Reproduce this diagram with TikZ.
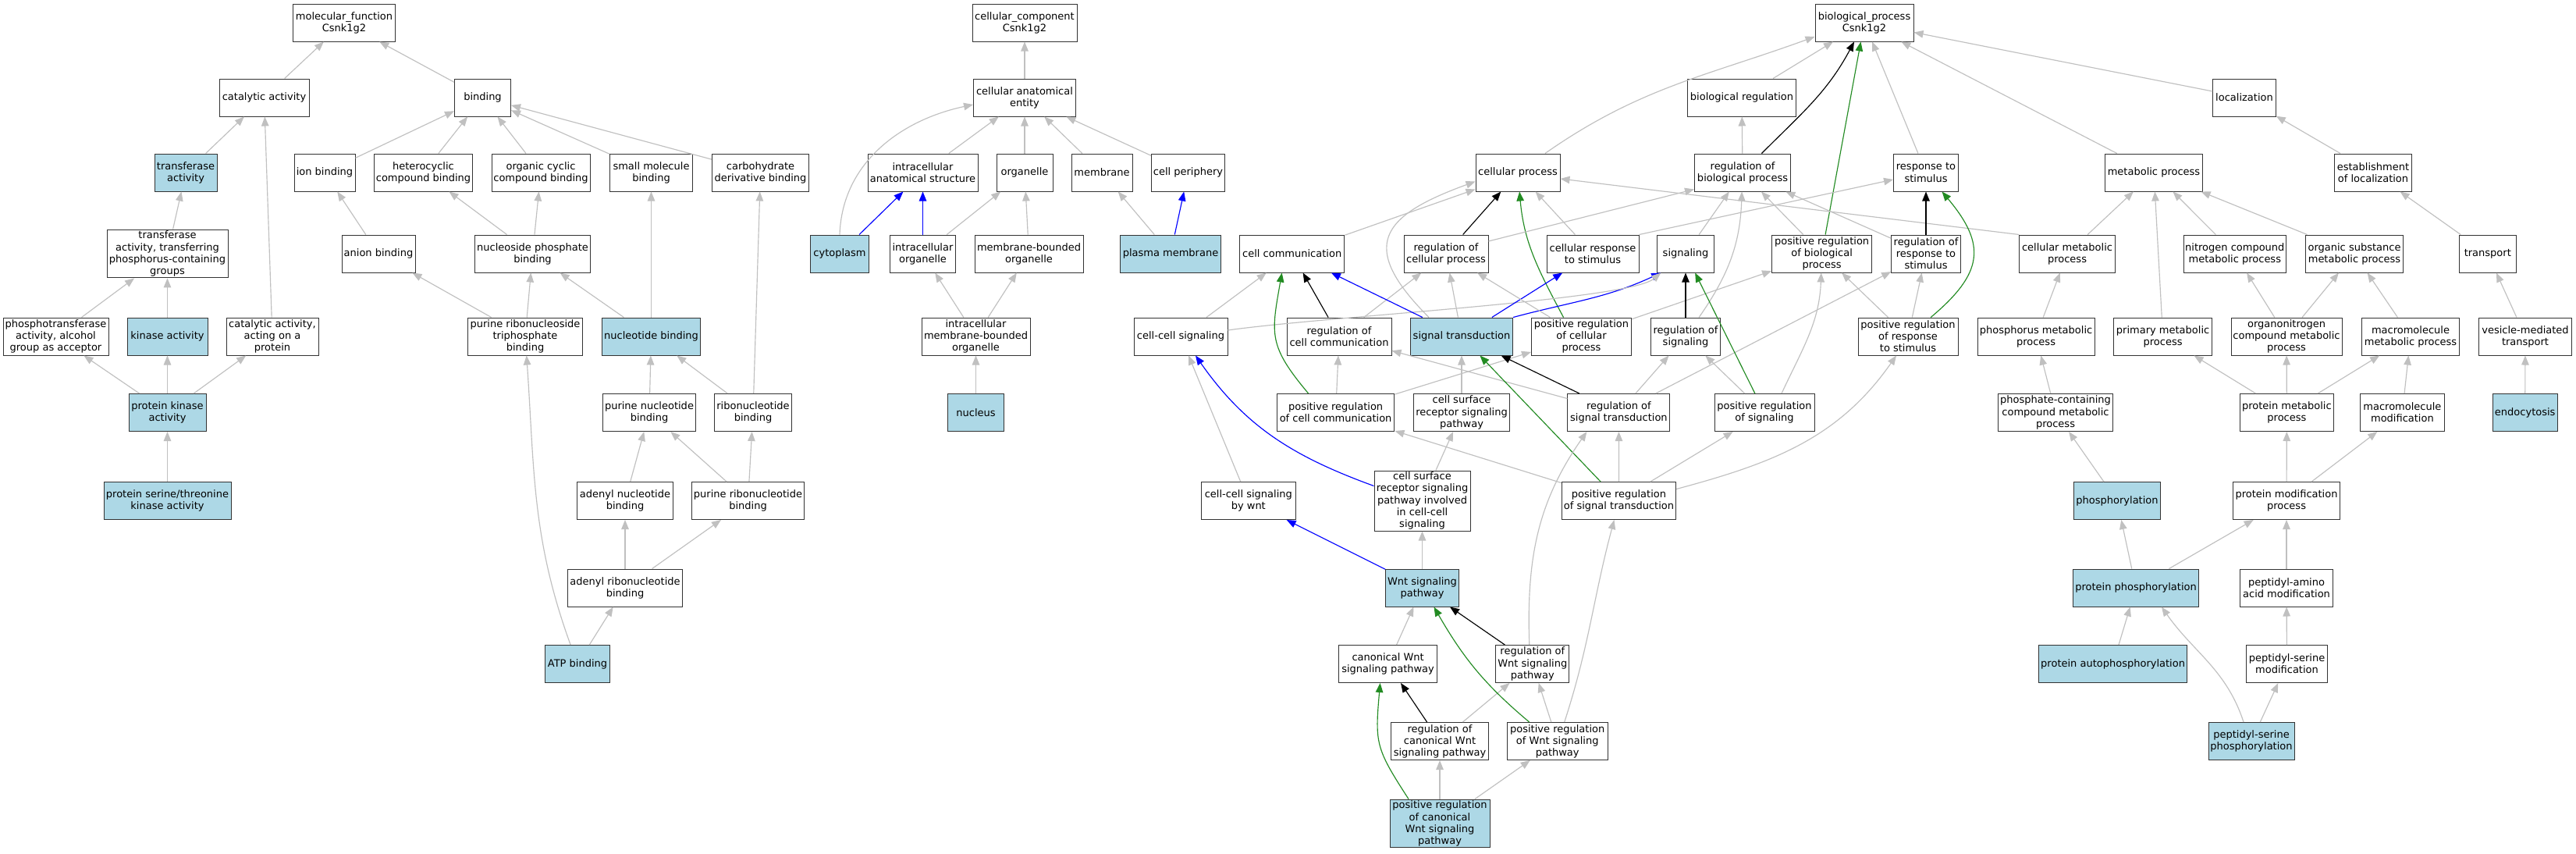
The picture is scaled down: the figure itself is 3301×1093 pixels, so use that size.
\documentclass[tikz,border=0pt]{standalone}
\usepackage{fontspec}
\setmainfont{DejaVu Sans}
\usepackage{xcolor}
\usetikzlibrary{arrows.meta}
\definecolor{lightblue}{HTML}{ADD8E6}
\definecolor{edgegray}{HTML}{C0C0C0}
\definecolor{forestgreen}{HTML}{228B22}

\begin{document}
\begin{tikzpicture}[x=1pt, y=1pt,
    term/.style={draw=black!80, line width=1pt, fill=white, rectangle, align=center,
        inner xsep=1.5pt, inner ysep=2pt, minimum height=48pt,
        font=\fontsize{13pt}{15.1pt}\selectfont},
    hit/.style={term, fill=lightblue},
    bw/.style={minimum width=#1pt},
    isa/.style={draw=edgegray, line width=1.15pt, -{Triangle[length=12pt, width=9.5pt]}},
    reg/.style={isa, draw=black},
    posreg/.style={isa, draw=forestgreen},
    partof/.style={isa, draw=blue}]
    \fill[white] (0,0) rectangle (3301,-1093);
    \useasboundingbox (0,0) rectangle (3301,-1093);

    \node[term, bw=131] (mf) at (441,-29) {molecular\_function\\Csnk1g2};
    \node[term, bw=115] (catact) at (338.5,-125) {catalytic activity};
    \node[term, bw=72] (binding) at (618.5,-125) {binding};
    \node[hit, bw=80] (transf) at (238,-221) {transferase\\activity};
    \node[term, bw=78] (ionb) at (416,-221) {ion binding};
    \node[term, bw=126] (hetero) at (542.5,-221) {heterocyclic\\compound binding};
    \node[term, bw=126] (orgcyc) at (693,-221) {organic cyclic\\compound binding};
    \node[term, bw=106] (smallmol) at (834.5,-221) {small molecule\\binding};
    \node[term, bw=124] (carbo) at (974.5,-221) {carbohydrate\\derivative binding};
    \node[term, bw=155] (transfp) at (214.5,-325) {transferase\\activity, transferring\\phosphorus-containing\\groups};
    \node[term, bw=94] (anion) at (485,-325) {anion binding};
    \node[term, bw=148] (nucphos) at (682.5,-325) {nucleoside phosphate\\binding};
    \node[term, bw=135] (phostr) at (71.5,-431) {phosphotransferase\\activity, alcohol\\group as acceptor};
    \node[hit, bw=103] (kinase) at (214.5,-431) {kinase activity};
    \node[term, bw=118] (catprot) at (349,-431) {catalytic activity,\\acting on a\\protein};
    \node[term, bw=147] (purtri) at (673,-431) {purine ribonucleoside\\triphosphate\\binding};
    \node[hit, bw=126] (nucleotide) at (834.5,-431) {nucleotide binding};
    \node[hit, bw=99] (pkinase) at (214.5,-528.5) {protein kinase\\activity};
    \node[term, bw=119] (purnuc) at (832,-528.5) {purine nucleotide\\binding};
    \node[term, bw=99] (ribonuc) at (965,-528.5) {ribonucleotide\\binding};
    \node[hit, bw=163] (serthr) at (214.5,-641.5) {protein serine/threonine\\kinase activity};
    \node[term, bw=123] (adenyl) at (801,-641.5) {adenyl nucleotide\\binding};
    \node[term, bw=144] (purribo) at (958.5,-641.5) {purine ribonucleotide\\binding};
    \node[term, bw=147] (adribo) at (801,-753) {adenyl ribonucleotide\\binding};
    \node[hit, bw=83] (atp) at (740,-850.5) {ATP binding};

    \node[term, bw=134] (cc) at (1313,-29) {cellular\_component\\Csnk1g2};
    \node[term, bw=131] (cae) at (1313,-125) {cellular anatomical\\entity};
    \node[term, bw=141] (ias) at (1182.5,-221) {intracellular\\anatomical structure};
    \node[term, bw=72] (organelle) at (1313,-221) {organelle};
    \node[term, bw=78] (membrane) at (1412,-221) {membrane};
    \node[term, bw=94] (cellper) at (1522.5,-221) {cell periphery};
    \node[hit, bw=74.5] (cytoplasm) at (1076,-325) {cytoplasm};
    \node[term, bw=84] (intraorg) at (1182.5,-325) {intracellular\\organelle};
    \node[term, bw=139] (mbo) at (1318.5,-325) {membrane-bounded\\organelle};
    \node[hit, bw=129] (plasma) at (1500,-325) {plasma membrane};
    \node[term, bw=139] (imbo) at (1250.5,-431) {intracellular\\membrane-bounded\\organelle};
    \node[hit, bw=72] (nucleus) at (1250.5,-528.5) {nucleus};

    \node[term, bw=126] (bp) at (2389,-29) {biological\_process\\Csnk1g2};
    \node[term, bw=139] (bioreg) at (2232,-125) {biological regulation};
    \node[term, bw=80.5] (loc) at (2876,-125) {localization};
    \node[term, bw=108] (cellproc) at (1945,-221) {cellular process};
    \node[term, bw=123] (regbp) at (2233,-221) {regulation of\\biological process};
    \node[term, bw=83] (resp) at (2468,-221) {response to\\stimulus};
    \node[term, bw=125.6] (metab) at (2760,-221) {metabolic process};
    \node[term, bw=99] (estloc) at (3041,-221) {establishment\\of localization};
    \node[term, bw=134.4] (cellcomm) at (1655.7,-325) {cell communication};
    \node[term, bw=108] (regcellproc) at (1853,-325) {regulation of\\cellular process};
    \node[term, bw=118] (cellresp) at (2041,-325) {cellular response\\to stimulus};
    \node[term, bw=72.5] (signaling) at (2160,-325) {signaling};
    \node[term, bw=128] (posbp) at (2334.6,-325) {positive regulation\\of biological\\process};
    \node[term, bw=88.6] (regresp) at (2468,-325) {regulation of\\response to\\stimulus};
    \node[term, bw=122.5] (cellmet) at (2649,-325) {cellular metabolic\\process};
    \node[term, bw=131.4] (nitro) at (2863.8,-325) {nitrogen compound\\metabolic process};
    \node[term, bw=125] (orgsub) at (3017,-325) {organic substance\\metabolic process};
    \node[term, bw=72.4] (transport) at (3187.8,-325) {transport};
    \node[term, bw=120] (ccsig) at (1513,-431) {cell-cell signaling};
    \node[term, bw=134] (regcellcomm) at (1716,-431) {regulation of\\cell communication};
    \node[hit, bw=131] (sigtr) at (1873,-431) {signal transduction};
    \node[term, bw=128] (poscellproc) at (2026.5,-431) {positive regulation\\of cellular\\process};
    \node[term, bw=88.6] (regsig) at (2160,-431) {regulation of\\signaling};
    \node[term, bw=128] (posresp) at (2445,-431) {positive regulation\\of response\\to stimulus};
    \node[term, bw=150] (phosmet) at (2609,-431) {phosphorus metabolic\\process};
    \node[term, bw=126] (primary) at (2771.6,-431) {primary metabolic\\process};
    \node[term, bw=142] (orgnitro) at (2930,-431) {organonitrogen\\compound metabolic\\process};
    \node[term, bw=125] (macromet) at (3089,-431) {macromolecule\\metabolic process};
    \node[term, bw=118.5] (vesicle) at (3236,-431) {vesicle-mediated\\transport};
    \node[term, bw=150.7] (poscellcomm) at (1711.6,-528.5) {positive regulation\\of cell communication};
    \node[term, bw=122.6] (csr) at (1873,-528.5) {cell surface\\receptor signaling\\pathway};
    \node[term, bw=131] (regsigtr) at (2074.4,-528.5) {regulation of\\signal transduction};
    \node[term, bw=128] (possig) at (2261,-528.5) {positive regulation\\of signaling};
    \node[term, bw=146.6] (phoscont) at (2634,-528.5) {phosphate-containing\\compound metabolic\\process};
    \node[term, bw=120.7] (protmet) at (2930.4,-528.5) {protein metabolic\\process};
    \node[term, bw=107.3] (macromod) at (3078.4,-528.5) {macromolecule\\modification};
    \node[hit, bw=83] (endo) at (3235.7,-528.5) {endocytosis};
    \node[term, bw=120.4] (ccwnt) at (1599.8,-641.5) {cell-cell signaling\\by wnt};
    \node[term, bw=123] (csrinv) at (1822.5,-641.5) {cell surface\\receptor signaling\\pathway involved\\in cell-cell\\signaling};
    \node[term, bw=146.3] (posst) at (2074.5,-641.5) {positive regulation\\of signal transduction};
    \node[hit, bw=110.6] (phosph) at (2713,-641.5) {phosphorylation};
    \node[term, bw=137] (protmod) at (2930,-641.5) {protein modification\\process};
    \node[hit, bw=94] (wnt) at (1822.5,-753) {Wnt signaling\\pathway};
    \node[hit, bw=161.4] (protphos) at (2737,-753) {protein phosphorylation};
    \node[term, bw=118.8] (pepamino) at (2930,-753) {peptidyl-amino\\acid modification};
    \node[term, bw=125.7] (canwnt) at (1778.6,-850.5) {canonical Wnt\\signaling pathway};
    \node[term, bw=94.3] (regwnt) at (1963.8,-850.5) {regulation of\\Wnt signaling\\pathway};
    \node[hit, bw=190.6] (autophos) at (2707.6,-850.5) {protein autophosphorylation};
    \node[term, bw=104] (pepsermod) at (2930.5,-850.5) {peptidyl-serine\\modification};
    \node[term, bw=125.4] (regcanwnt) at (1845,-949.5) {regulation of\\canonical Wnt\\signaling pathway};
    \node[term, bw=128.7] (poswnt) at (1995.7,-949.5) {positive regulation\\of Wnt signaling\\pathway};
    \node[hit, bw=110] (pepserphos) at (2885,-949.5) {peptidyl-serine\\phosphorylation};
    \node[hit, bw=128] (poscanwnt) at (1845,-1055) {positive regulation\\of canonical\\Wnt signaling\\pathway};

    \draw[isa] (catact) -- (mf);
    \draw[isa] (binding) -- (mf);
    \draw[isa] (transf) -- (catact);
    \draw[isa] (catprot) -- (catact);
    \draw[isa] (ionb) -- (binding);
    \draw[isa] (hetero) -- (binding);
    \draw[isa] (orgcyc) -- (binding);
    \draw[isa] (smallmol) -- (binding);
    \draw[isa] (carbo) -- (binding);
    \draw[isa] (transfp) -- (transf);
    \draw[isa] (anion) -- (ionb);
    \draw[isa] (nucphos) -- (hetero);
    \draw[isa] (nucphos) -- (orgcyc);
    \draw[isa] (phostr) -- (transfp);
    \draw[isa] (kinase) -- (transfp);
    \draw[isa] (purtri) -- (anion);
    \draw[isa] (purtri) -- (nucphos);
    \draw[isa] (nucleotide) -- (nucphos);
    \draw[isa] (nucleotide) -- (smallmol);
    \draw[isa] (pkinase) -- (phostr);
    \draw[isa] (pkinase) -- (kinase);
    \draw[isa] (pkinase) -- (catprot);
    \draw[isa] (purnuc) -- (nucleotide);
    \draw[isa] (ribonuc) -- (nucleotide);
    \draw[isa] (ribonuc) -- (carbo);
    \draw[isa] (serthr) -- (pkinase);
    \draw[isa] (adenyl) -- (purnuc);
    \draw[isa] (purribo) -- (purnuc);
    \draw[isa] (purribo) -- (ribonuc);
    \draw[isa] (adribo) -- (adenyl);
    \draw[isa] (adribo) -- (purribo);
    \draw[isa] (atp) -- (adribo);
    \draw[isa] (atp) to[out=110, in=-86] (purtri);

    \draw[isa] (cae) -- (cc);
    \draw[isa] (ias) -- (cae);
    \draw[isa] (organelle) -- (cae);
    \draw[isa] (membrane) -- (cae);
    \draw[isa] (cellper) -- (cae);
    \draw[isa] (cytoplasm.north) to[out=88, in=192] ([yshift=-9pt]cae.west);
    \draw[partof] (cytoplasm) -- (ias);
    \draw[partof] (intraorg) -- (ias);
    \draw[isa] (intraorg) -- (organelle);
    \draw[isa] (mbo) -- (organelle);
    \draw[isa] (plasma) -- (membrane);
    \draw[partof] (plasma) -- (cellper);
    \draw[isa] (imbo) -- (intraorg);
    \draw[isa] (imbo) -- (mbo);
    \draw[isa] (nucleus) -- (imbo);

    \draw[isa] (bioreg) -- (bp);
    \draw[isa] (cellproc) to[out=35, in=200] ([yshift=-18pt]bp.west);
    \draw[reg] (regbp) to[out=45, in=-118] (bp);
    \draw[posreg] (posbp) -- (bp);
    \draw[isa] (resp) -- (bp);
    \draw[isa] (loc) -- (bp);
    \draw[isa] (metab) -- (bp);
    \draw[isa] (regbp) -- (bioreg);
    \draw[isa] (estloc) -- (loc);
    \draw[isa] (transport) -- (estloc);
    \draw[isa] (vesicle) -- (transport);
    \draw[isa] (endo) -- (vesicle);

    \draw[isa] (cellcomm) -- ([yshift=3pt]cellproc.south west);
    \draw[isa] ([xshift=-42pt]sigtr.north) to[out=135, in=200, looseness=1.8] ([yshift=13pt]cellproc.south west);
    \draw[reg] (regcellproc) -- (cellproc);
    \draw[posreg] ([xshift=-23pt]poscellproc.north) to[out=118, in=-85] (cellproc);
    \draw[isa] (cellresp) -- (cellproc);
    \draw[isa] (cellmet.north west) -- ([yshift=-8pt]cellproc.east);
    \draw[isa] ([yshift=16pt]regcellproc.east) -- ([yshift=3pt]regbp.south west);
    \draw[isa] (cellresp.north east) -- ([yshift=-9pt]resp.west);
    \draw[isa] (signaling) -- (regbp);
    \draw[isa] (posbp) -- (regbp);
    \draw[isa] (regresp) -- (regbp);
    \draw[reg] (regresp) -- (resp);

    \draw[isa] (ccsig) -- (cellcomm);
    \draw[partof] (sigtr.north east) to[out=15, in=-155] ([xshift=5pt]signaling.south west);
    \draw[isa] ([yshift=8pt]ccsig.east) to[out=8, in=-140, out looseness=0.6, in looseness=0.25] ([xshift=5pt]signaling.south west);
    \draw[reg] (regcellcomm) -- (cellcomm);
    \draw[isa] (regcellcomm) -- (regcellproc);
    \draw[partof] (sigtr) -- (cellcomm);
    \draw[isa] (sigtr) -- (regcellproc);
    \draw[partof] (sigtr) -- (cellresp);
    \draw[isa] (poscellproc) -- (regcellproc);
    \draw[isa] (poscellproc) -- (posbp);
    \draw[reg] (regsig) -- (signaling);
    \draw[isa] (regsig) to[out=55, in=-92] (regbp);
    \draw[isa] (posresp) -- (regresp);
    \draw[posreg] (posresp) to[out=40, in=-50, looseness=1.4] (resp);
    \draw[isa] (posresp) -- (posbp);
    \draw[isa] (phosmet) -- (cellmet);
    \draw[isa] (cellmet) -- (metab);
    \draw[isa] (primary) -- (metab);
    \draw[isa] (nitro) -- (metab);
    \draw[isa] (orgsub) -- (metab);
    \draw[isa] (orgnitro) -- (nitro);
    \draw[isa] (orgnitro) -- (orgsub);
    \draw[isa] (macromet) -- (orgsub);

    \draw[isa] (poscellcomm) -- (regcellcomm);
    \draw[posreg] ([xshift=-35pt]poscellcomm.north) to[out=130, in=-100, looseness=1.3] ([xshift=-13pt]cellcomm.south);
    \draw[isa] (poscellcomm) -- (poscellproc);
    \draw[isa] (csr) -- (sigtr);
    \draw[reg] (regsigtr) -- (sigtr);
    \draw[isa] (regsigtr) -- (regcellcomm);
    \draw[isa] (regsigtr) -- (regsig);
    \draw[isa] (regsigtr) -- (regresp);
    \draw[posreg] (possig) -- (signaling);
    \draw[isa] (possig) -- (regsig);
    \draw[isa] ([xshift=22pt]possig.north) to[out=65, in=-92] (posbp);
    \draw[isa] (phoscont) -- (phosmet);
    \draw[isa] (protmet) -- (primary);
    \draw[isa] (protmet) -- (orgnitro);
    \draw[isa] (protmet) -- (macromet);
    \draw[isa] (macromod) -- (macromet);

    \draw[isa] (ccwnt) -- (ccsig);
    \draw[partof] ([yshift=19pt]csrinv.west) to[out=160, in=-55] ([xshift=19pt]ccsig.south);
    \draw[isa] (csrinv) -- (csr);
    \draw[isa] (posst) -- (regsigtr);
    \draw[isa] (posst) -- (possig);
    \draw[posreg] (posst) -- (sigtr);
    \draw[isa] (posst) -- (poscellcomm);
    \draw[isa] ([yshift=15pt]posst.east) to[out=15, in=-125] ([xshift=-15pt]posresp.south);
    \draw[isa] (phosph) -- (phoscont);
    \draw[isa] (protmod) -- (protmet);
    \draw[isa] (protmod) -- (macromod);

    \draw[partof] (wnt) -- (ccwnt);
    \draw[isa] (wnt) -- (csrinv);
    \draw[isa] (protphos) -- (phosph);
    \draw[isa] (protphos) -- (protmod);
    \draw[isa] (pepamino) -- (protmod);

    \draw[isa] (canwnt) -- (wnt);
    \draw[reg] (regwnt) -- (wnt);
    \draw[isa] ([xshift=-4pt]regwnt.north) to[out=92, in=-125] ([xshift=-41pt]regsigtr.south);
    \draw[isa] (autophos) -- (protphos);
    \draw[isa] (pepsermod) -- (pepamino);

    \draw[reg] (regcanwnt) -- (canwnt);
    \draw[isa] (regcanwnt) -- (regwnt);
    \draw[isa] (poswnt) -- (regwnt);
    \draw[posreg] ([xshift=-36pt]poswnt.north) to[out=140, in=-60] ([xshift=15pt]wnt.south);
    \draw[isa] ([xshift=9pt]poswnt.north) to[out=72, in=-105] ([xshift=-6pt]posst.south);
    \draw[isa] ([xshift=-10pt]pepserphos.north) to[out=108, in=-55] ([xshift=33pt]protphos.south);
    \draw[isa] (pepserphos) -- (pepsermod);

    \draw[isa] (poscanwnt) -- (regcanwnt);
    \draw[isa] (poscanwnt) -- (poswnt);
    \draw[posreg] ([xshift=-40pt]poscanwnt.north) to[out=123, in=-95, looseness=1.3] ([xshift=-10pt]canwnt.south);
\end{tikzpicture}
\end{document}
